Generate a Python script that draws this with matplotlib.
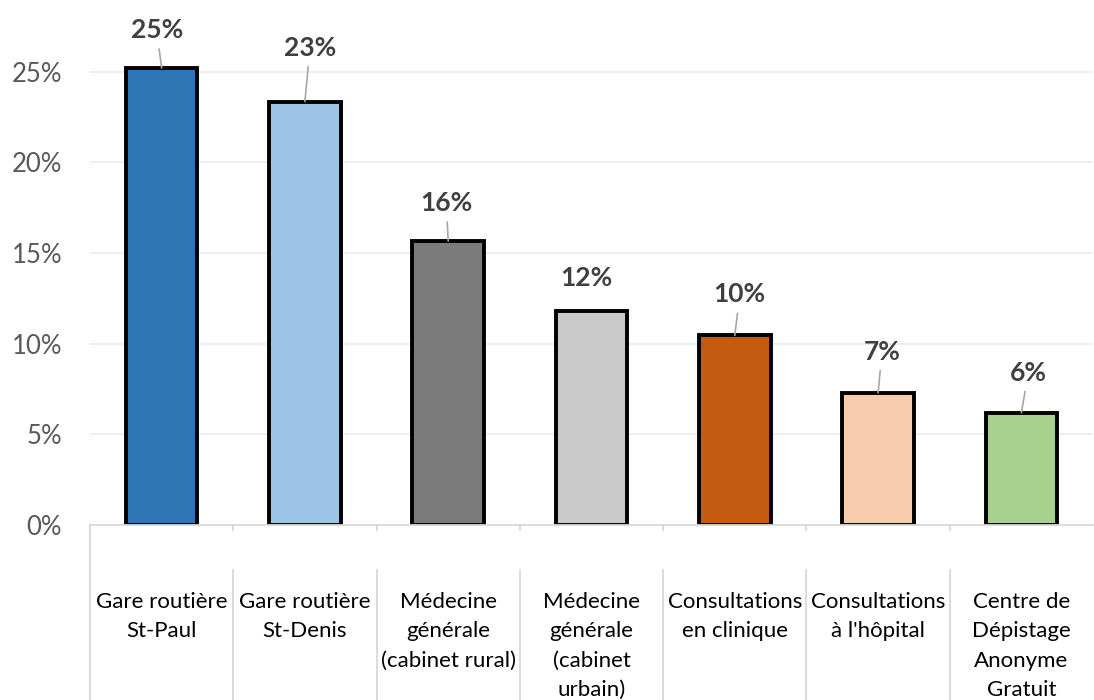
import matplotlib
matplotlib.use("Agg")
import matplotlib.pyplot as plt

categories = ["Gare routière\nSt-Paul", "Gare routière\nSt-Denis", "Médecine\ngénérale\n(cabinet rural)",
              "Médecine\ngénérale\n(cabinet\nurbain)", "Consultations\nen clinique", "Consultations\nà l'hôpital",
              "Centre de\nDépistage\nAnonyme\nGratuit"]
values = [25.2, 23.35, 15.65, 11.8, 10.45, 7.28, 6.18]
labels = ["25%", "23%", "16%", "12%", "10%", "7%", "6%"]
colors = ["#2E75B6", "#9DC3E6", "#7B7B7B", "#C9C9C9", "#C55A11", "#F8CBAD", "#A9D18E"]
yticks = [0, 5, 10, 15, 20, 25]
ytick_labels = ["0%", "5%", "10%", "15%", "20%", "25%"]

# label offsets from bar top (pixels) and whether a leader line is drawn
label_offsets = [(-5, 38), (5, 54), (-2, 38), (-5, 33), (5, 41), (4, 41), (7, 40)]
leader = [True, True, True, False, True, True, True]

plt.rcParams['font.family'] = ['Lato', 'DejaVu Sans']

W, H = 1094, 700
fig = plt.figure(figsize=(W / 100, H / 100), dpi=100)
ax_left, ax_right = 90, 1093
ax_bottom_px, ax_top_px = 524.7, 0
ax = fig.add_axes([ax_left / W, (H - ax_bottom_px) / H, (ax_right - ax_left) / W, (ax_bottom_px - ax_top_px) / H])

px_per_unit = 90.6 / 5
ax.set_ylim(0, (ax_bottom_px - ax_top_px) / px_per_unit)
ax.set_xlim(-0.5, len(values) - 0.5)

x = list(range(len(values)))
ax.bar(x, values, width=0.5, color=colors, edgecolor="black", linewidth=2.8, zorder=3)

ax.set_yticks(yticks)
ax.set_yticklabels(ytick_labels, fontsize=18.5, color="#595959")
ax.tick_params(axis="y", length=0, pad=20)
ax.set_xticks([])
ax.grid(axis="y", color="#EEEEEE", linewidth=1.4, zorder=0)
for s in ["top", "right", "left"]:
    ax.spines[s].set_visible(False)
ax.spines["bottom"].set_color("#D9D9D9")
ax.spines["bottom"].set_linewidth(1.3)
ax.spines["bottom"].set_zorder(4)

# data labels
for i, (v, lab) in enumerate(zip(values, labels)):
    dx, dy = label_offsets[i]
    ap = dict(arrowstyle="-", color="#A6A6A6", lw=1.2, shrinkA=3, shrinkB=0) if leader[i] else None
    ax.annotate(lab, xy=(i, v), xytext=(dx, dy), textcoords="offset pixels",
                ha="center", va="center", fontsize=19, fontweight="bold", color="#404040",
                arrowprops=ap, zorder=5, annotation_clip=False)

# category axis separators (multi-level style)
axh = ax_bottom_px - ax_top_px
tr = ax.get_xaxis_transform()
short_end = -5 / axh
long_start = -45 / axh
bottom_end = -(H - ax_bottom_px) / axh
sep_color = "#D9D9D9"
for b in range(len(values)):
    xb = b - 0.5
    if b == 0:
        ax.plot([xb, xb], [0, bottom_end], transform=tr, color=sep_color, lw=1.3, clip_on=False)
    else:
        ax.plot([xb, xb], [0, short_end], transform=tr, color=sep_color, lw=1.3, clip_on=False)
        ax.plot([xb, xb], [long_start, bottom_end], transform=tr, color=sep_color, lw=1.3, clip_on=False)

# category labels
text_top = -(592 - ax_bottom_px) / axh
for i, c in enumerate(categories):
    ax.text(i, text_top, c, transform=tr, ha="center", va="top", fontsize=16,
            color="#000000", linespacing=1.58, multialignment="center")

fig.savefig("out.png", dpi=100)
